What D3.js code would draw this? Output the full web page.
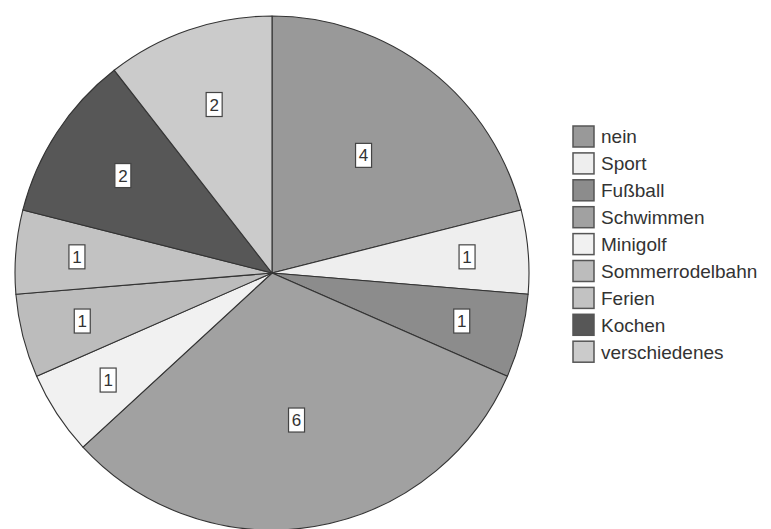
<!DOCTYPE html>
<html>
<head>
<meta charset="utf-8">
<script src="https://cdn.jsdelivr.net/npm/d3@7"></script>
<style>
  html, body { margin: 0; padding: 0; background: #ffffff; }
  svg { display: block; }
</style>
</head>
<body>
<svg id="chart" width="771" height="529"></svg>
<script>
const categories = ["nein", "Sport", "Fußball", "Schwimmen", "Minigolf", "Sommerrodelbahn", "Ferien", "Kochen", "verschiedenes"];
const values = [4, 1, 1, 6, 1, 1, 1, 2, 2];
const colors = ["#999999", "#eeeeee", "#8c8c8c", "#a1a1a1", "#f1f1f1", "#bcbcbc", "#c2c2c2", "#575757", "#cbcbcb"];

const data = categories.map((c, i) => ({ name: c, value: values[i] }));
const total = d3.sum(values);

const svg = d3.select("#chart");
const cx = 272, cy = 273, R = 257;

const color = d3.scaleOrdinal().domain(categories).range(colors);

const pie = d3.pie().value(d => d.value).sort(null);
const arcs = pie(data);
const arc = d3.arc().innerRadius(0).outerRadius(R);

const g = svg.append("g").attr("transform", `translate(${cx},${cy})`);

g.selectAll("path.slice")
  .data(arcs)
  .enter().append("path")
  .attr("class", "slice")
  .attr("d", arc)
  .attr("fill", d => color(d.data.name))
  .attr("stroke", "#333333")
  .attr("stroke-width", 1.1)
  .attr("stroke-linejoin", "round");

// data labels
const labelG = g.selectAll("g.lbl")
  .data(arcs)
  .enter().append("g")
  .attr("class", "lbl")
  .attr("transform", d => {
    const frac = d.data.value / total;
    const k = Math.max(0.58, 0.83 - 1.3 * frac);
    const a = (d.startAngle + d.endAngle) / 2;
    const x = Math.sin(a) * R * k;
    const y = -Math.cos(a) * R * k;
    return `translate(${x},${y})`;
  });

labelG.append("rect")
  .attr("x", -8).attr("y", -12)
  .attr("width", 16).attr("height", 24)
  .attr("fill", "#ffffff")
  .attr("stroke", "#444444")
  .attr("stroke-width", 1.2);

labelG.append("text")
  .attr("text-anchor", "middle")
  .attr("dy", "0.36em")
  .attr("font-family", "Liberation Sans, Arial, sans-serif")
  .attr("font-size", 17)
  .attr("fill", "#333333")
  .text(d => d.data.value);

// legend
const legend = svg.append("g").attr("transform", "translate(573,126)");
const pitch = 26.9;
const items = legend.selectAll("g.item")
  .data(categories)
  .enter().append("g")
  .attr("class", "item")
  .attr("transform", (d, i) => `translate(0,${i * pitch})`);

items.append("rect")
  .attr("x", 0).attr("y", 0)
  .attr("width", 21).attr("height", 21)
  .attr("fill", d => color(d))
  .attr("stroke", "#555555")
  .attr("stroke-width", 1.5);

items.append("text")
  .attr("x", 28).attr("y", 10.5)
  .attr("dy", "0.36em")
  .attr("font-family", "Liberation Sans, Arial, sans-serif")
  .attr("font-size", 19)
  .attr("fill", "#333333")
  .text(d => d);
</script>
</body>
</html>
